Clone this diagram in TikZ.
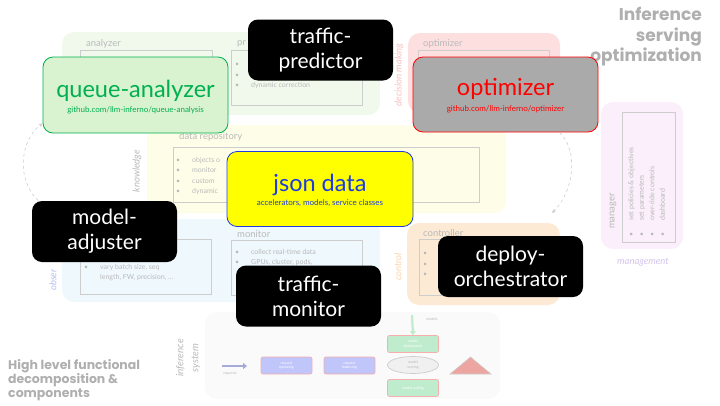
\documentclass[tikz,border=0pt]{standalone}
\usepackage{fontspec}
\setmainfont{Lato}
\newfontfamily\titlefont{Poppins}
\usetikzlibrary{arrows.meta, shapes.geometric, positioning}

\definecolor{qagreen}{RGB}{0,176,80}
\definecolor{qafill}{RGB}{217,242,208}
\definecolor{optgray}{RGB}{170,170,170}
\definecolor{optred}{RGB}{255,0,0}
\definecolor{jsonblue}{RGB}{30,60,225}
\definecolor{jsonfill}{RGB}{255,255,0}
\definecolor{fadetext}{RGB}{185,185,185}
\definecolor{fadeline}{RGB}{205,205,205}
\definecolor{bggreen}{RGB}{241,249,237}
\definecolor{bgpink}{RGB}{253,223,223}
\definecolor{bgyellow}{RGB}{254,254,232}
\definecolor{bgblue}{RGB}{239,248,253}
\definecolor{bgorange}{RGB}{253,234,213}
\definecolor{bgviolet}{RGB}{250,239,250}
\definecolor{bginfer}{RGB}{250,250,250}
\definecolor{titlegray}{RGB}{175,175,175}
\definecolor{pinktext}{RGB}{248,190,190}
\definecolor{bluetext}{RGB}{180,190,240}
\definecolor{orangetext}{RGB}{250,212,170}
\definecolor{violettext}{RGB}{212,195,235}
\definecolor{reqblue}{RGB}{192,197,250}
\definecolor{reqedge}{RGB}{245,175,175}
\definecolor{modgreen}{RGB}{192,236,206}
\definecolor{arrowblue}{RGB}{165,170,215}
\definecolor{servefill}{RGB}{240,240,240}
\definecolor{trifill}{RGB}{236,165,160}

\newcommand{\fbul}{\makebox[16pt][l]{\textbullet}}

\tikzset{
  fgbox/.style={rounded corners=10pt, line width=0.8pt, inner sep=0pt},
  blackbox/.style={fgbox, fill=black, text=white, minimum width=145pt,
    minimum height=61pt, align=center, font=\fontsize{21}{25}\selectfont},
  bigname/.style={inner sep=0pt, anchor=base, font=\fontsize{23.5}{26}\selectfont},
  urltext/.style={inner sep=0pt, anchor=base, font=\fontsize{8}{9}\selectfont},
  region/.style={rounded corners=12pt},
  listbox/.style={draw=fadeline, line width=0.8pt},
  fadelabel/.style={text=fadetext, font=\fontsize{9.5}{11}\selectfont, inner sep=0pt, anchor=west},
  fadelist/.style={text=fadetext, font=\fontsize{7}{10.5}\selectfont, inner sep=0pt,
    align=left, anchor=north west},
  sidelabel/.style={font=\itshape\fontsize{9.5}{11}\selectfont, rotate=90, inner sep=0pt},
  flatlabel/.style={font=\itshape\fontsize{9.5}{11}\selectfont, inner sep=0pt},
  titletext/.style={text=titlegray, font=\titlefont\bfseries\fontsize{17}{20.5}\selectfont, inner sep=0pt},
  flowbox/.style={rounded corners=2pt, draw=reqedge, line width=0.7pt, text=white,
    minimum width=51pt, minimum height=17pt, inner sep=0pt, align=center,
    font=\fontsize{3.6}{4.4}\selectfont},
  loopline/.style={draw=fadeline, dashed, line width=0.6pt, -{Stealth[length=4pt,width=3.5pt]}}
}

\begin{document}
\begin{tikzpicture}[x=1pt, y=-1pt]
\useasboundingbox (0,0) rectangle (720,405);

% faded background layer
\fill[region, bggreen]  (62,32) rectangle (380,115);
\fill[region, bgpink]   (408,33) rectangle (560,113);
\fill[region, bgyellow] (147,125) rectangle (506,213);
\fill[region, bgblue]   (62,219) rectangle (380,302);
\fill[region, bgorange] (407,223) rectangle (560,305);
\fill[region, bgviolet] (601,102) rectangle (683,249);
\fill[region, bginfer]  (205,312) rectangle (500,399);

\draw[listbox] (80,50) rectangle (212,105);
\draw[listbox] (231,50) rectangle (362,105);
\draw[listbox] (418,50) rectangle (549,105);
\draw[listbox] (173,147) rectangle (479,202);
\draw[listbox] (80,239) rectangle (211,294);
\draw[listbox] (231,240) rectangle (362,295);
\draw[listbox] (419,239) rectangle (549,295);
\draw[listbox] (622,112) rectangle (675,242);

\node[fadelabel] (lana) at (86,44) {analyzer};
\node[fadelabel] (lpre) at (237,44) {pr};
\node[fadelabel] (lopt) at (423,44) {optimizer};
\node[fadelabel] (lrep) at (179,137) {data repository};
\node[fadelabel] (lmon) at (237,234) {monitor};
\node[fadelabel] (lctl) at (423,233) {controller};
\node[fadelabel, rotate=90, anchor=center] (lman) at (613,211) {manager};

\node[fadelist] (pre) at (235,63) {\textbullet\\\textbullet\\\fbul dynamic correction};
\node[fadelist] (rep) at (176,157) {\fbul objects o\\\fbul monitor\\\fbul custom\\\fbul dynamic};
\node[fadelist] (adj) at (84,264) {\fbul vary batch size, seq\\\makebox[16pt]{}length, FW, precision, \dots};
\node[fadelist] (mon) at (235,249) {\fbul collect real-time data\\\fbul GPUs, cluster, pods,};
\node[fadelist] (ctl) at (423,252) {\textbullet\\\textbullet\\\textbullet};
\node[fadelist, rotate=90] (man) at (628,237)
  {\fbul set policies \& objectives\\\fbul set parameters\\\fbul over-ride controls\\\fbul dashboard};

\node[sidelabel, text=pinktext] (dm) at (399,75) {decision making};
\node[sidelabel, text=fadetext] (kn) at (137,171) {knowledge};
\node[sidelabel, text=bluetext, anchor=west] (ob) at (53,291) {obser};
\node[sidelabel, text=orangetext] (co) at (398,267) {control};
\node[flatlabel, text=violettext] (mg) at (643,262) {management};
\node[sidelabel, text=fadetext, align=center, font=\itshape\fontsize{10}{15}\selectfont] (is) at (188,358) {inference\\system};

\node[titletext, align=right, anchor=north east] (title) at (702,7) {Inference\\serving\\optimization};
\node[titletext, align=left, anchor=north west, font=\titlefont\bfseries\fontsize{12.5}{14}\selectfont] (hl) at (8,359)
  {High level functional\\decomposition \&\\components};

% inference system sketch
\coordinate (rq0) at (222,366);
\coordinate (rq1) at (247,366);
\draw[arrowblue, line width=2pt, -{Triangle[length=4pt,width=6pt]}] (rq0) -- (rq1);
\node[text=fadetext, font=\fontsize{3.6}{4.4}\selectfont, inner sep=0pt] (rqt) at (230,374) {requests};
\node[flowbox, fill=reqblue] (qu) at (286.5,365.5) {request\\queueing};
\node[flowbox, fill=reqblue] (ba) at (349.5,365.5) {request\\balancing};
\node[flowbox, fill=modgreen] (de) at (413,344) {model\\deployment};
\node[flowbox, ellipse, fill=servefill, draw=fadeline, text=fadetext] (se) at (413,365) {model\\serving};
\node[flowbox, fill=modgreen] (sc) at (413,388) {model scaling};
\coordinate (md0) at (412,315);
\draw[modgreen, line width=2.2pt, -{Triangle[length=4pt,width=6pt]}] (md0) -- (de.north);
\node[text=fadetext, font=\fontsize{3.6}{4.4}\selectfont, inner sep=0pt] (mdt) at (432,319) {models};
\fill[trifill, draw=fadeline, line width=0.6pt] (450,374) -- (491,374) -- (470.5,357) -- cycle;

% front components
\node[fgbox, draw=qagreen, fill=qafill, minimum width=185pt, minimum height=76pt] (qa) at (135.5,95) {};
\node[bigname, text=qagreen] (qaname) at ([yshift=-2pt]qa.center) {queue-analyzer};
\node[urltext, text=qagreen] (qaurl) at ([yshift=-17pt]qa.center) {github.com/llm-inferno/queue-analysis};

\node[fgbox, draw=optred, fill=optgray, minimum width=185pt, minimum height=75pt] (opt) at (505.5,94.5) {};
\node[bigname, text=optred] (optname) at ([yshift=-0.5pt]opt.center) {optimizer};
\node[urltext, text=optred] (opturl) at ([yshift=-17pt]opt.center) {github.com/llm-inferno/optimizer};

\node[fgbox, draw=jsonblue, fill=jsonfill, minimum width=186pt, minimum height=75pt] (json) at (320,189) {};
\node[bigname, text=jsonblue] (jsonname) at ([yshift=-2pt]json.center) {json data};
\node[urltext, text=jsonblue] (jsonurl) at ([yshift=-16.5pt]json.center) {accelerators, models, service classes};

\node[blackbox] (tp) at (320.5,50) {traffic-\\predictor};
\node[blackbox] (ma) at (104.5,231.5) {model-\\adjuster};
\node[blackbox] (tm) at (308.5,296) {traffic-\\monitor};
\node[blackbox] (dor) at (510.5,266.5) {deploy-\\orchestrator};

% feedback loops
\coordinate (ctlin) at (552,213);
\draw[loopline] (ma.155) .. controls (16,180) and (20,140) .. (qa.197);
\draw[loopline] (opt.-35) .. controls (578,150) and (575,190) .. (ctlin);
\end{tikzpicture}
\end{document}
